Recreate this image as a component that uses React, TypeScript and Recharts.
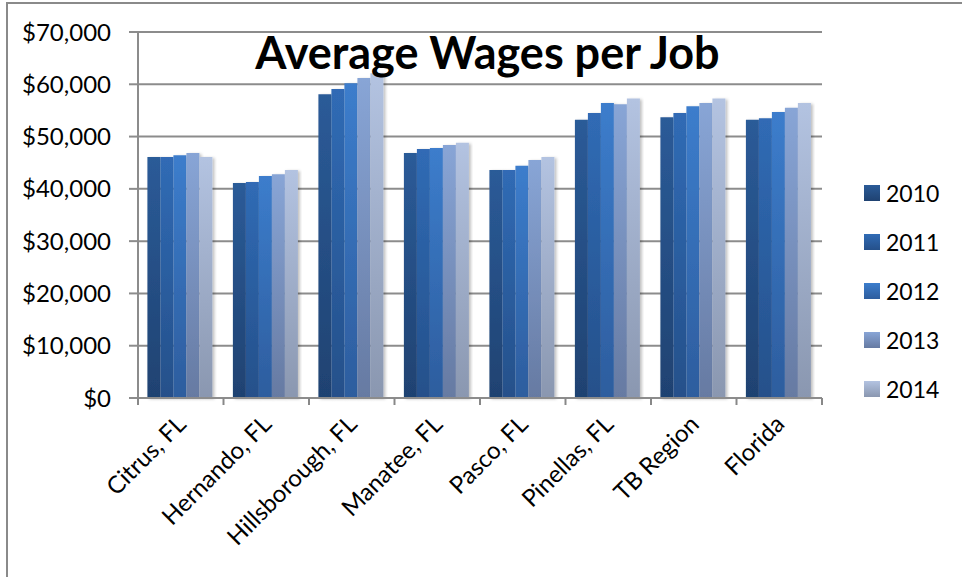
import React from 'react'
import { BarChart, Bar, XAxis, YAxis, CartesianGrid } from 'recharts'

const regions = ['Citrus, FL', 'Hernando, FL', 'Hillsborough, FL', 'Manatee, FL', 'Pasco, FL', 'Pinellas, FL', 'TB Region', 'Florida']
const years = ['2010', '2011', '2012', '2013', '2014']

const wages2010 = [46100, 41100, 58100, 46850, 43600, 53200, 53700, 53200]
const wages2011 = [46100, 41300, 59100, 47600, 43600, 54500, 54500, 53500]
const wages2012 = [46450, 42450, 60200, 47800, 44400, 56400, 55800, 54700]
const wages2013 = [46850, 42800, 61200, 48400, 45500, 56200, 56400, 55500]
const wages2014 = [46100, 43600, 62100, 48800, 46100, 57300, 57300, 56400]

const yTicks = [0, 10000, 20000, 30000, 40000, 50000, 60000, 70000]

const gradients: Record<string, [string, string]> = {
  '2010': ['#2b5b98', '#1f4271'],
  '2011': ['#306bb5', '#25508a'],
  '2012': ['#3c7dcc', '#2d5d9e'],
  '2013': ['#88a5d6', '#667aa2'],
  '2014': ['#b3c3e1', '#8a97b0'],
}

const series = [wages2010, wages2011, wages2012, wages2013, wages2014]
const data = regions.map((name, i) => {
  const row: Record<string, string | number> = { name }
  years.forEach((y, k) => { row[y] = series[k][i] })
  return row
})

const font = 'Lato, "Open Sans", sans-serif'

const fmt = (v: number) => '$' + v.toLocaleString('en-US')

function RegionTick(props: any) {
  const { x, y, payload, width, visibleTicksCount, index } = props
  const bw = width / visibleTicksCount
  return (
    <g>
      <line x1={x - bw / 2} x2={x - bw / 2} y1={y} y2={y + 7} stroke="#888" strokeWidth={2} />
      {index === visibleTicksCount - 1 && (
        <line x1={x + bw / 2} x2={x + bw / 2} y1={y} y2={y + 7} stroke="#888" strokeWidth={2} />
      )}
      <text x={x + 1} y={y + 22} transform={`rotate(-45, ${x + 1}, ${y + 22})`} textAnchor="end"
        fontSize={24} fill="#000" fontFamily={font} dy={8}>
        {payload.value}
      </text>
    </g>
  )
}

function YearLegend() {
  return (
    <div style={{ position: 'absolute', left: 864, top: 168, fontFamily: font }}>
      {years.map(y => (
        <div key={y} style={{ display: 'flex', alignItems: 'center', height: 49 }}>
          <div style={{ width: 16, height: 16, marginRight: 6, background: `linear-gradient(${gradients[y][0]}, ${gradients[y][1]})` }} />
          <span style={{ fontSize: 23, color: '#000' }}>{y}</span>
        </div>
      ))}
    </div>
  )
}

export default function App() {
  return (
    <div style={{ position: 'absolute', left: 0, top: 0, width: 962, height: 577, overflow: 'hidden', background: '#fff' }}>
      <div style={{ position: 'absolute', left: 6, top: 2, width: 1000, height: 700, border: '2px solid #8a8a8a' }} />
      <div style={{ position: 'absolute', left: 0, top: 0 }}>
        <BarChart width={962} height={577} data={data} margin={{ top: 32, right: 140, left: 0, bottom: 0 }}
          barCategoryGap="11%" barGap={0}>
          <defs>
            {years.map(y => (
              <linearGradient key={y} id={`g${y}`} x1="0" y1="0" x2="0" y2="1">
                <stop offset="0%" stopColor={gradients[y][0]} />
                <stop offset="100%" stopColor={gradients[y][1]} />
              </linearGradient>
            ))}
            <filter id="shadow" x="-20%" y="-5%" width="150%" height="110%">
              <feDropShadow dx={2} dy={1} stdDeviation={1.5} floodColor="#000" floodOpacity={0.25} />
            </filter>
          </defs>
          <CartesianGrid vertical={false} stroke="#8c8c8c" strokeWidth={2} />
          <XAxis dataKey="name" interval={0} height={179} tickSize={0} tickMargin={0} tickLine={false}
            axisLine={{ stroke: '#8c8c8c', strokeWidth: 2 }} tick={<RegionTick />} />
          <YAxis width={138} domain={[0, 70000]} ticks={yTicks} interval={0} tickFormatter={fmt}
            tickSize={9} tickMargin={18} tickLine={{ stroke: '#8c8c8c', strokeWidth: 2 }}
            axisLine={{ stroke: '#8c8c8c', strokeWidth: 2 }}
            tick={{ fontSize: 24, fill: '#000', fontFamily: font }} />
          {years.map(y => (
            <Bar key={y} dataKey={y} fill={`url(#g${y})`} filter="url(#shadow)" isAnimationActive={false} />
          ))}
        </BarChart>
      </div>
      <div style={{ position: 'absolute', left: 0, top: 25, width: 975, textAlign: 'center', fontFamily: font, fontWeight: 700, fontSize: 45, color: '#000' }}>
        Average Wages per Job
      </div>
      <YearLegend />
    </div>
  )
}
